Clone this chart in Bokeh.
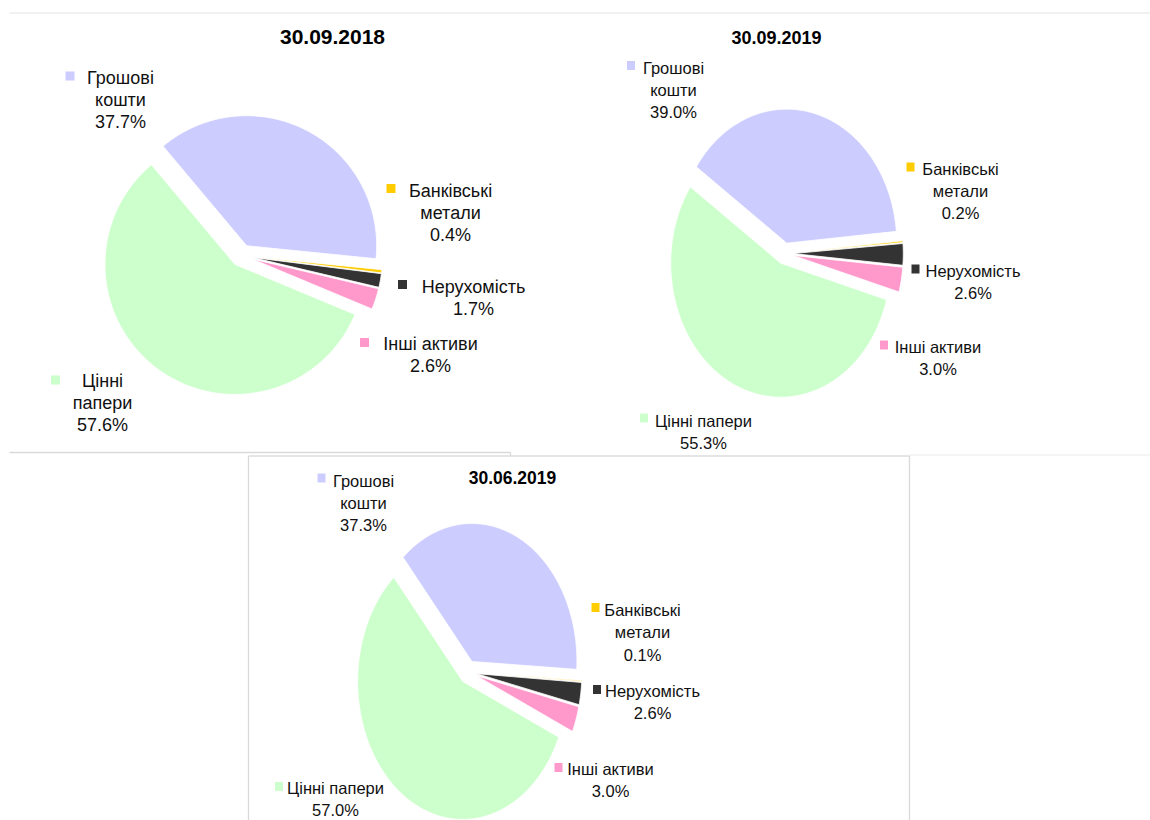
import numpy as np
from bokeh.plotting import figure
from bokeh.models import Range1d
from bokeh.core.properties import value
from bokeh.embed import file_html
from bokeh.resources import INLINE

# ---------------- data ----------------
categories = ["Грошові кошти", "Банківські метали", "Нерухомість", "Інші активи", "Цінні папери"]
colors = ["#CCCCFF", "#FFCC00", "#333333", "#FF99CC", "#CCFFCC"]
titles = ["30.09.2018", "30.09.2019", "30.06.2019"]
share_2018_09 = [37.7, 0.4, 1.7, 2.6, 57.6]
share_2019_09 = [39.0, 0.2, 2.6, 3.0, 55.3]
share_2019_06 = [37.3, 0.1, 2.6, 3.0, 57.0]
series = [share_2018_09, share_2019_09, share_2019_06]

# ---------------- layout (pixel positions on the page) ----------------
FONT = "Liberation Sans"
charts = [
    dict(center=(241, 255), rx=130, ry=130, start=130.0, explode=0.085,
         title=(332, 36), fs=18, tfs=21, mw=9,
         wrap=[True, True, False, False, True],
         labels=[(120, 77), (450, 190), (473, 286), (430, 343), (102, 380)],
         markers=[(69.5, 75.5), (390.5, 188), (402, 284), (364, 342), (55, 379.5)]),
    dict(center=(784, 253), rx=110, ry=134, start=145.3, explode=0.08,
         title=(776, 37), fs=16.5, tfs=18, mw=8,
         wrap=[True, True, False, False, False],
         labels=[(673, 67), (960, 168), (972.5, 270), (937.5, 346), (703, 420)],
         markers=[(630.5, 65), (910, 166.5), (915, 268.5), (883.5, 344.5), (643.5, 417.5)]),
    dict(center=(467.5, 671.5), rx=105, ry=138, start=131.0, explode=0.085,
         title=(512, 477), fs=16.5, tfs=17.5, mw=8,
         wrap=[True, True, False, False, False],
         labels=[(363, 480), (642, 609.5), (652, 690.5), (610, 768.5), (335, 787.5)],
         markers=[(321, 477.5), (595, 607), (596.5, 689), (558, 767), (278.5, 786)]),
]
LINE_STEP = 22.3
TEXT_COLOR = "#111111"

p = figure(width=1150, height=820, x_range=Range1d(0, 1150), y_range=Range1d(820, 0),
           output_backend="svg", toolbar_location=None,
           x_axis_location=None, y_axis_location=None, min_border=0)
p.grid.visible = False
p.outline_line_color = None
p.background_fill_color = "white"
p.border_fill_color = "white"

# panel frames
p.segment(x0=[9, 9, 248, 248, 909, 909, 510], y0=[12.5, 452, 455.5, 455.5, 455.5, 454.5, 452],
          x1=[1150, 510, 909, 248, 909, 1150, 510], y1=[12.5, 452, 455.5, 820, 820, 454.5, 455.5],
          line_color=["#ececec", "#d9d9d9", "#dcdcdc", "#d9d9d9", "#d9d9d9", "#f0f0f0", "#d9d9d9"],
          line_width=1.3)

for vals, title, cfg in zip(series, titles, charts):
    cx, cy = cfg["center"]
    rx, ry = cfg["rx"], cfg["ry"]
    total = float(sum(vals))
    angle = np.radians(cfg["start"])
    xs, ys = [], []
    for v in vals:
        span = 2 * np.pi * v / total
        a0, a1 = angle, angle - span          # clockwise
        mid = (a0 + a1) / 2
        ox = cx + cfg["explode"] * rx * np.cos(mid)
        oy = cy - cfg["explode"] * ry * np.sin(mid)
        n = max(4, int(np.degrees(span)) + 2)
        t = np.linspace(a0, a1, n)
        xs.append(np.concatenate([[ox], ox + rx * np.cos(t)]))
        ys.append(np.concatenate([[oy], oy - ry * np.sin(t)]))
        angle = a1
    p.patches(xs=xs, ys=ys, fill_color=colors, line_color="white", line_width=0.8)

    # title
    tx, ty = cfg["title"]
    p.text(x=[tx], y=[ty], text=[title], text_align="center", text_baseline="middle",
           text_font=value(FONT), text_font_size=f"{cfg['tfs']}px",
           text_font_style="bold", text_color="#000000")

    # data labels
    lx, ly, lt = [], [], []
    for cat, v, wrap, (ax, ay) in zip(categories, vals, cfg["wrap"], cfg["labels"]):
        lines = cat.split(" ") if wrap else [cat]
        lines = lines + [f"{v:.1f}%"]
        for i, s in enumerate(lines):
            lx.append(ax)
            ly.append(ay + i * LINE_STEP)
            lt.append(s)
    p.text(x=lx, y=ly, text=lt, text_align="center", text_baseline="middle",
           text_font=value(FONT), text_font_size=f"{cfg['fs']}px",
           text_color=TEXT_COLOR)

    mx = [m[0] for m in cfg["markers"]]
    my = [m[1] for m in cfg["markers"]]
    p.rect(x=mx, y=my, width=cfg["mw"], height=9, fill_color=colors, line_color=None)

open("out.html", "w").write(file_html(p, INLINE))
